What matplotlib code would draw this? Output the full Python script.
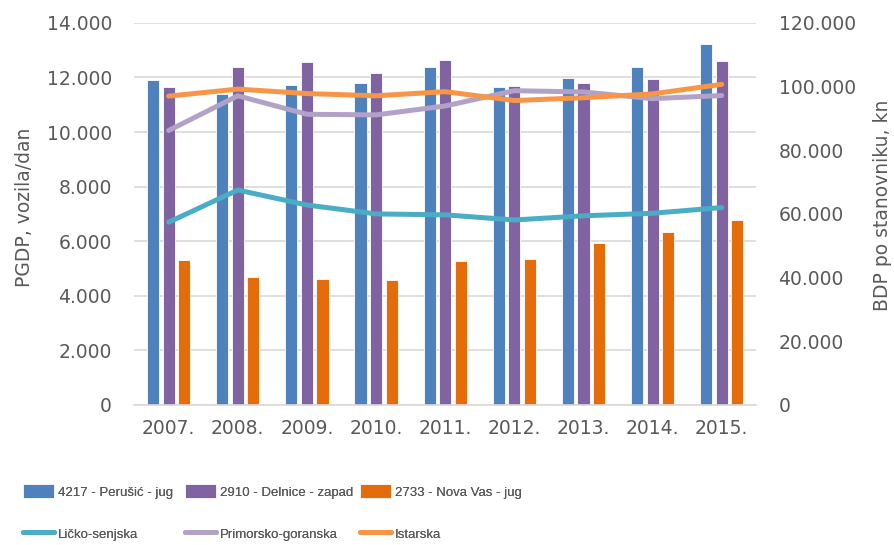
import matplotlib
matplotlib.use('Agg')
from matplotlib import pyplot as plt
from matplotlib.ticker import FuncFormatter
import numpy as np

years = ['2007.', '2008.', '2009.', '2010.', '2011.', '2012.', '2013.', '2014.', '2015.']

# PGDP, vozila/dan (left axis)
perusic = [11900, 11400, 11720, 11790, 12390, 11650, 11990, 12400, 13230]
delnice = [11650, 12400, 12580, 12160, 12650, 11680, 11800, 11930, 12600]
nova_vas = [5310, 4670, 4630, 4590, 5270, 5340, 5930, 6320, 6760]

# BDP po stanovniku, kn (right axis)
licko = [57400, 67500, 62800, 60000, 59700, 58100, 59400, 60200, 62000]
primorsko = [86200, 97100, 91300, 91100, 93900, 98700, 98300, 96200, 97200]
istarska = [97000, 99200, 97800, 97100, 98400, 95600, 96500, 97700, 100700]

grey = '#595959'
plt.rcParams['font.family'] = ['DejaVu Sans']

def thousands(v, pos):
    return '{:,.0f}'.format(v).replace(',', '.')

fig = plt.figure(figsize=(8.94, 5.45), dpi=100)
ax1 = fig.add_axes([0.15, 0.257, 0.696, 0.701])
ax2 = ax1.twinx()

x = np.arange(len(years))
w = 0.175
d = 0.225
b1 = ax1.bar(x - d, perusic, w, color='#4F81BD', edgecolor='white', linewidth=0.6, zorder=2)
b2 = ax1.bar(x, delnice, w, color='#8064A2', edgecolor='white', linewidth=0.6, zorder=2)
b3 = ax1.bar(x + d, nova_vas, w, color='#E46C0A', edgecolor='white', linewidth=0.6, zorder=2)

l1, = ax2.plot(x, licko, color='#4BACC6', lw=3.6, solid_capstyle='round')
l2, = ax2.plot(x, primorsko, color='#B3A2C7', lw=3.6, solid_capstyle='round')
l3, = ax2.plot(x, istarska, color='#F79646', lw=3.6, solid_capstyle='round')

ax1.set_xlim(-0.5, len(years) - 0.5)
ax1.set_ylim(0, 14000)
ax1.set_yticks(np.arange(0, 14001, 2000))
ax2.set_ylim(0, 120000)
ax2.set_yticks(np.arange(0, 120001, 20000))
ax1.yaxis.set_major_formatter(FuncFormatter(thousands))
ax2.yaxis.set_major_formatter(FuncFormatter(thousands))
ax1.set_xticks(x)
ax1.set_xticklabels(years)

ax1.grid(axis='y', color='#D9D9D9', lw=1.2, zorder=0)
ax1.set_axisbelow(True)
for ax in (ax1, ax2):
    for s in ax.spines.values():
        s.set_visible(False)
    ax.tick_params(length=0, labelsize=13.5, colors=grey)
ax1.spines['bottom'].set_visible(True)
ax1.spines['bottom'].set_color('#D9D9D9')
ax1.spines['bottom'].set_linewidth(1.2)
ax1.tick_params(axis='y', pad=16)
ax1.tick_params(axis='x', pad=10)
ax2.tick_params(axis='y', pad=16)

fig.text(25 / 894, 1 - 207 / 545, 'PGDP, vozila/dan', rotation=90, fontsize=13.5,
         color=grey, ha='center', va='center')
fig.text(882 / 894, 1 - 205 / 545, 'BDP po stanovniku, kn', rotation=90, fontsize=13.5,
         color=grey, ha='center', va='center')

# legend: three columns placed like the original
cols = [([b1, l1], ['4217 - Perušić - jug', 'Ličko-senjska'], 23),
        ([b2, l2], ['2910 - Delnice - zapad', 'Primorsko-goranska'], 185),
        ([b3, l3], ['2733 - Nova Vas - jug', 'Istarska'], 360)]
for hs, labs, xp in cols:
    leg = fig.legend(hs, labs, loc='center left', bbox_to_anchor=(xp / 894, 1 - 512.5 / 545),
                     frameon=False, prop={'family': 'Liberation Sans', 'size': 9.5},
                     labelcolor=grey, handlelength=2.35, handleheight=1.3,
                     handletextpad=0.3, labelspacing=2.1, borderpad=0,
                     borderaxespad=0)
    fig.add_artist(leg)

fig.savefig('out.png', dpi=100)
